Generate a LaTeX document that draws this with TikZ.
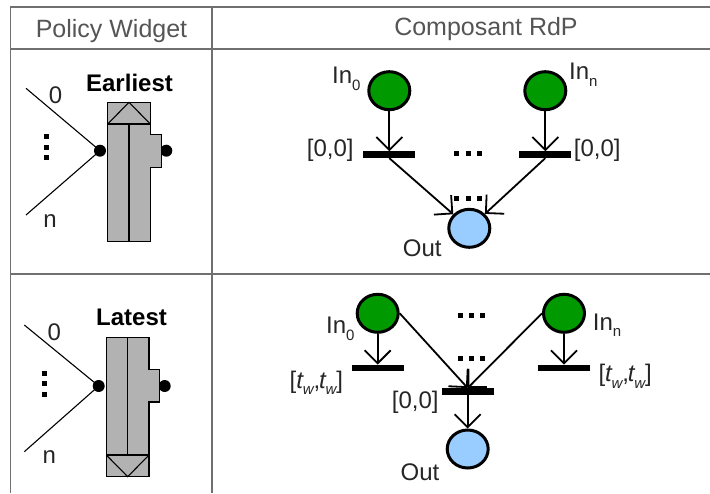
\documentclass[tikz,border=0pt]{standalone}
\usepackage{fontspec}
\setmainfont{Liberation Sans}
\usetikzlibrary{arrows.meta,shapes.geometric}
\definecolor{gridc}{HTML}{707070}
\definecolor{widg}{HTML}{B2B2B2}
\definecolor{pgreen}{HTML}{009900}
\definecolor{pblue}{HTML}{99CCFF}
\definecolor{txt}{HTML}{262626}
\definecolor{headtxt}{HTML}{555555}
\newcommand{\lowtxt}[1]{\raisebox{-0.28em}{\fontsize{15}{15}\selectfont #1}}
\tikzset{x=1pt,y=-1pt,
 gridline/.style={draw=gridc,line width=1.8pt},
 headlab/.style={font=\fontsize{25}{26}\selectfont,text=headtxt,inner sep=0pt,anchor=base},
 lab/.style={font=\fontsize{24}{26}\selectfont,text=txt,inner sep=0pt,anchor=base},
 blab/.style={font=\fontsize{24}{26}\selectfont\bfseries,text=black,inner sep=0pt,anchor=base},
 place/.style={ellipse,draw=black,line width=3pt,minimum width=41pt,minimum height=38pt,inner sep=0pt},
 placein/.style={place,fill=pgreen},
 placeout/.style={place,fill=pblue},
 trans/.style={fill=black,minimum width=52pt,minimum height=6.5pt,inner sep=0pt},
 arc/.style={draw=black,line width=1.8pt,-{Straight Barb[length=13pt,width=26pt,line width=1.8pt]}},
 arm/.style={draw=black,line width=1.1pt},
 bdot/.style={circle,fill=black,minimum size=12pt,inner sep=0pt},
 wbody/.style={draw=black,fill=widg,line width=1.1pt},
 wedge/.style={draw=black,line width=1.1pt},
 dotsq/.style={fill=black,minimum size=5pt,inner sep=0pt}}
\begin{document}
\begin{tikzpicture}
\useasboundingbox (0,0) rectangle (710,493);
\fill[white] (0,0) rectangle (710,493);
% table
\draw[gridline] (10,7) -- (710,7);
\draw[gridline] (10,49) -- (710,49);
\draw[gridline] (10,274) -- (710,274);
\draw[gridline] (10.5,6.1) -- (10.5,493);
\draw[gridline] (212,7) -- (212,493);
\node[headlab] (h1) at (111.5,37) {Policy Widget};
\node[headlab] (h2) at (486,35) {Composant RdP};
% Earliest widget
\node[blab] (e0) at (129.5,91) {Earliest};
\coordinate (ea) at (26,88.3);
\coordinate (eb) at (26,215);
\node[bdot] (ed) at (100,150.7) {};
\node[bdot] (edr) at (166.3,150.7) {};
\draw[arm] (ea) -- (ed.center);
\draw[arm] (eb) -- (ed.center);
\node[lab] (e1) at (55.5,103.5) {0};
\node[lab] (e2) at (50,227) {n};
\node[dotsq] at (46.3,136.7) {};
\node[dotsq] at (46.3,147.3) {};
\node[dotsq] at (46.3,157.7) {};
\draw[wbody] (107.7,102.3) -- (150.3,102.3) -- (150.3,134.7) -- (161.3,134.7) -- (161.3,167.3) -- (150.3,167.3) -- (150.3,241.7) -- (107.7,241.7) -- cycle;
\draw[wedge] (107.7,124) -- (150.3,124);
\draw[wedge] (107.7,124) -- (129,102.3) -- (150.3,124);
\draw[wedge] (129,124) -- (129,241.7);
% Latest widget
\node[blab] (l0) at (131.5,325.7) {Latest};
\coordinate (la) at (24.3,325);
\coordinate (lb) at (24.3,451.7);
\node[bdot] (ld) at (98.7,386) {};
\node[bdot] (ldr) at (164.7,386) {};
\draw[arm] (la) -- (ld.center);
\draw[arm] (lb) -- (ld.center);
\node[lab] (l1) at (54.3,340.5) {0};
\node[lab] (l2) at (49.3,463) {n};
\node[dotsq] at (44.7,373.3) {};
\node[dotsq] at (44.7,383.7) {};
\node[dotsq] at (44.7,394.3) {};
\draw[wbody] (106.3,337.7) -- (149,337.7) -- (149,369.3) -- (159.7,369.3) -- (159.7,402) -- (149,402) -- (149,476.7) -- (106.3,476.7) -- cycle;
\draw[wedge] (106.3,455) -- (149,455);
\draw[wedge] (106.3,455) -- (127.7,476.7) -- (149,455);
\draw[wedge] (127.7,337.7) -- (127.7,455);
% Earliest net
\node[placein] (p1) at (389.3,90.7) {};
\node[placein] (p2) at (545.3,90.7) {};
\node[trans] (t1) at (389.3,154.7) {};
\node[trans] (t2) at (545.3,154.7) {};
\node[placeout] (o1) at (469.3,228.3) {};
\draw[arc] (p1) -- (t1);
\draw[arc] (p2) -- (t2);
\draw[arc] (t1.south) -- (o1);
\draw[arc] (t2.south) -- (o1);
\node[lab,anchor=base west] (n1) at (332,83.3) {In\lowtxt{0}};
\node[lab,anchor=base west] (n2) at (569,79.3) {In\lowtxt{n}};
\node[lab] (n3) at (330.3,156) {[0,0]};
\node[lab] (n4) at (597.2,156) {[0,0]};
\node[lab] (n5) at (422.2,256.7) {Out};
\foreach \x in {456.7,468.3,479.3}{
 \node[dotsq] at (\x,153.3) {};
 \node[dotsq] at (\x,198.3) {};
}
% Latest net
\node[placein] (p3) at (377.7,313.3) {};
\node[placein] (p4) at (564,313.3) {};
\node[trans] (t3) at (377.7,368) {};
\node[trans] (t4) at (564,368) {};
\node[trans] (t5) at (467.7,391.5) {};
\node[placeout] (o2) at (467.7,449) {};
\draw[arc] (p3) -- (t3);
\draw[arc] (p4) -- (t4);
\draw[arc] (p3.east) -- (t5.north);
\draw[arc] (p4.west) -- (t5.north);
\draw[arc] (t5) -- (o2);
\node[lab,anchor=base west] (n6) at (326,333.3) {In\lowtxt{0}};
\node[lab,anchor=base west] (n7) at (592.7,330) {In\lowtxt{n}};
\node[lab,anchor=base west] (n8) at (289.5,388) {[\textit{t}\kern-1pt\lowtxt{\textit{w}}\kern-1pt,\kern-1pt\textit{t}\kern-1pt\lowtxt{\textit{w}}\kern-1pt]};
\node[lab,anchor=base west] (n9) at (598.3,381.7) {[\textit{t}\kern-1pt\lowtxt{\textit{w}}\kern-1pt,\kern-1pt\textit{t}\kern-1pt\lowtxt{\textit{w}}\kern-1pt]};
\node[lab] (n10) at (415.3,408) {[0,0]};
\node[lab] (n11) at (420,480) {Out};
\foreach \x in {460,471.3,482.7}{
 \node[dotsq] at (\x,315) {};
 \node[dotsq] at (\x,358.3) {};
}
\end{tikzpicture}
\end{document}
